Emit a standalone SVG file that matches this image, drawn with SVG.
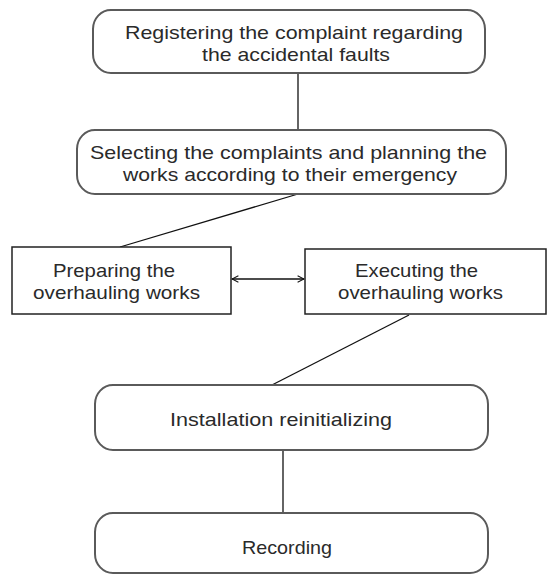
<svg xmlns="http://www.w3.org/2000/svg" width="548" height="575" viewBox="0 0 548 575">
  <style>
    .rb { fill: #ffffff; stroke: #5a5a5a; stroke-width: 2; }
    .sq { fill: #ffffff; stroke: #222222; stroke-width: 1.5; }
    .t { font-family: "Liberation Sans", Arial, sans-serif; font-size: 19px; fill: #2a2a2a; }
    .c { stroke: #111111; stroke-width: 1.3; fill: none; }
  </style>
  <defs>
    <marker id="open" viewBox="0 0 10 10" refX="9" refY="5" markerWidth="8" markerHeight="8" orient="auto-start-reverse" markerUnits="userSpaceOnUse">
      <path d="M1,1 L9,5 L1,9" fill="none" stroke="#111" stroke-width="1.3"/>
    </marker>
  </defs>
  <rect width="548" height="575" fill="#ffffff"/>
  <g id="connectors">
    <line class="c" x1="298" y1="73" x2="298" y2="130"/>
    <line class="c" x1="298" y1="194" x2="120" y2="247"/>
    <line class="c" x1="232" y1="279" x2="304" y2="279" marker-start="url(#open)" marker-end="url(#open)"/>
    <line class="c" x1="409" y1="315" x2="270" y2="386"/>
    <line class="c" x1="283" y1="450" x2="283" y2="513"/>
  </g>
  <g id="n1">
    <rect class="rb" x="93" y="10" width="392" height="63" rx="18" ry="19"/>
    <text class="t" x="125" y="39" textLength="338" lengthAdjust="spacingAndGlyphs">Registering the complaint regarding</text>
    <text class="t" x="202" y="61" textLength="188" lengthAdjust="spacingAndGlyphs">the accidental faults</text>
  </g>
  <g id="n2">
    <rect class="rb" x="77" y="130" width="429" height="64" rx="18" ry="19"/>
    <text class="t" x="90" y="159" textLength="397" lengthAdjust="spacingAndGlyphs">Selecting the complaints and planning the</text>
    <text class="t" x="123" y="181" textLength="334" lengthAdjust="spacingAndGlyphs">works according to their emergency</text>
  </g>
  <g id="n3">
    <rect class="sq" x="12" y="247" width="219" height="67"/>
    <text class="t" x="53" y="277" textLength="122" lengthAdjust="spacingAndGlyphs">Preparing the</text>
    <text class="t" x="33" y="299" textLength="167" lengthAdjust="spacingAndGlyphs">overhauling works</text>
  </g>
  <g id="n4">
    <rect class="sq" x="305" y="249" width="241" height="65"/>
    <text class="t" x="355" y="277" textLength="123" lengthAdjust="spacingAndGlyphs">Executing the</text>
    <text class="t" x="338" y="299" textLength="165" lengthAdjust="spacingAndGlyphs">overhauling works</text>
  </g>
  <g id="n5">
    <rect class="rb" x="95" y="385" width="393" height="65" rx="18" ry="19"/>
    <text class="t" x="170" y="426" textLength="222" lengthAdjust="spacingAndGlyphs">Installation reinitializing</text>
  </g>
  <g id="n6">
    <rect class="rb" x="95" y="513" width="393" height="60" rx="18" ry="19"/>
    <text class="t" x="242" y="554" textLength="90" lengthAdjust="spacingAndGlyphs">Recording</text>
  </g>
</svg>
